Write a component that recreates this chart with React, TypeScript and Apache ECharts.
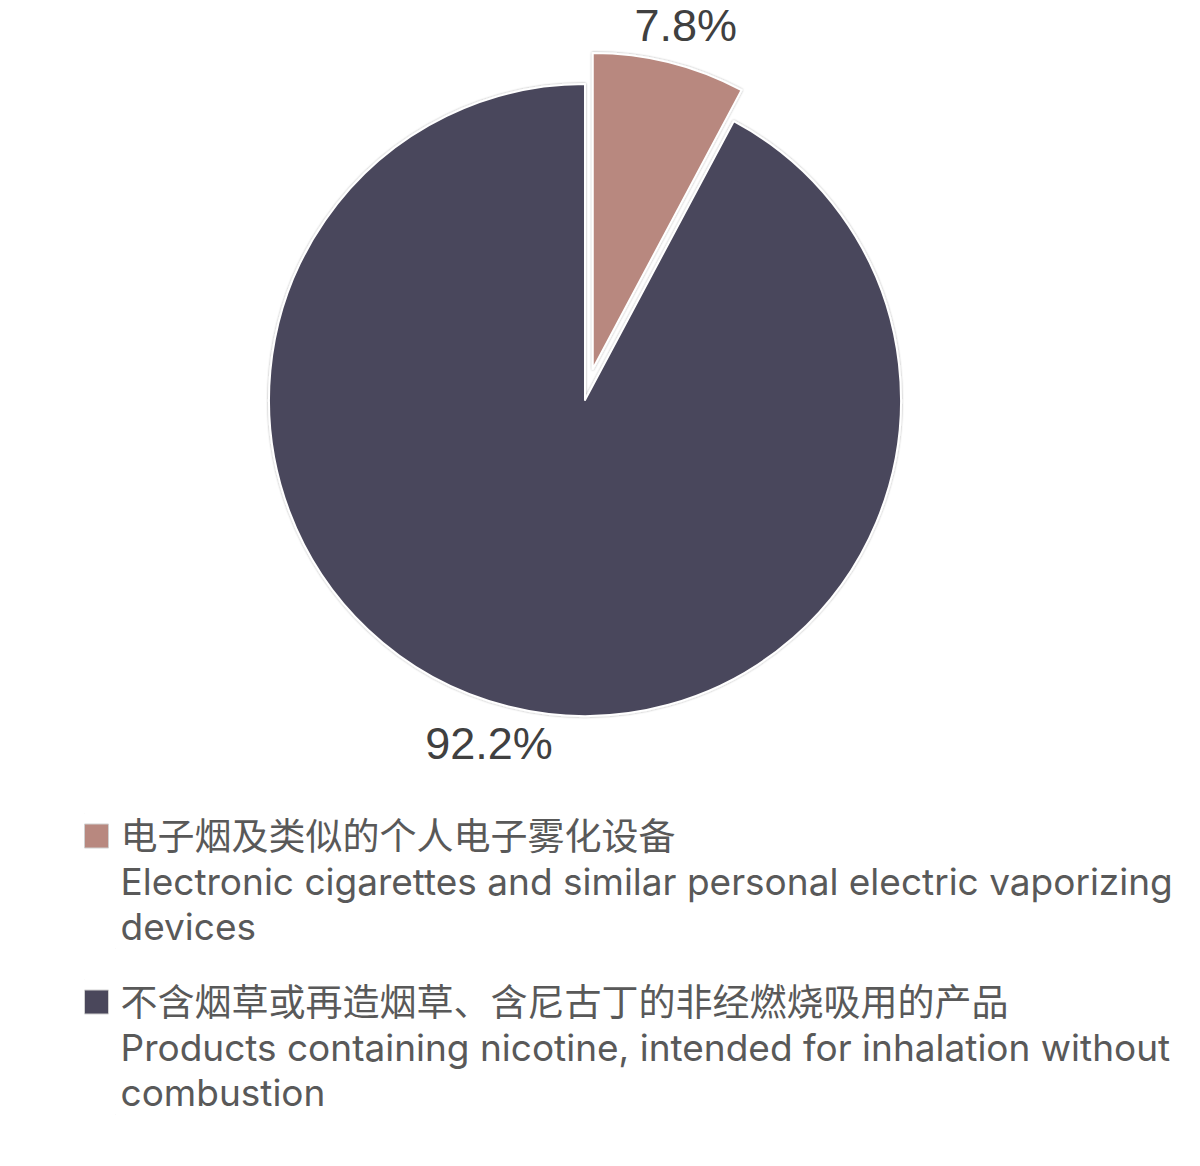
import React, { useEffect, useRef } from 'react';
import * as echarts from 'echarts';

// 数据
const CATEGORY_ZH = ['电子烟及类似的个人电子雾化设备', '不含烟草或再造烟草、含尼古丁的非经燃烧吸用的产品'];
const CATEGORY_EN = [
  'Electronic cigarettes and similar personal electric vaporizing\ndevices',
  'Products containing nicotine, intended for inhalation without\ncombustion',
];
const SHARE = [7.8, 92.2];
const COLORS = ['#b8887f', '#4a475b'];
const EXPLODED = 0; // 被拉出的扇区

const FONT = "'Liberation Sans', 'Noto Sans CJK SC', sans-serif";
const LEGEND_FONT = "Inter, 'Noto Sans CJK SC', sans-serif";

// 饼图几何
const CENTER = [585, 400];
const RADIUS = 316;
const EXPLODE_OFFSET = 32;
const LABEL_GAP = 16;

// 图例图标：上方小方块，下方留空以让方块对齐第一行
const LEGEND_ICON = 'path://M0,10.5h24v24h-24z M0,0L0.1,0 M31,135L30.9,135';

const HIDDEN = { color: 'rgba(0,0,0,0)', borderWidth: 0, shadowBlur: 0 };

const App: React.FC = () => {
  const ref = useRef<HTMLDivElement>(null);

  useEffect(() => {
    document.body.style.margin = '0';
    if (!ref.current) return;
    const chart = echarts.init(ref.current, null, { renderer: 'svg' });

    const names = CATEGORY_ZH.map((zh, i) => `${zh}\n${CATEGORY_EN[i]}`);
    const total = SHARE.reduce((a, b) => a + b, 0);

    // 扇区中线方向（从正上方顺时针）
    const midDir = (idx: number) => {
      const before = SHARE.slice(0, idx).reduce((a, b) => a + b, 0);
      const mid = ((before + SHARE[idx] / 2) / total) * Math.PI * 2;
      return [Math.sin(mid), -Math.cos(mid)];
    };
    const [ex, ey] = midDir(EXPLODED);
    const explodedCenter = [CENTER[0] + ex * EXPLODE_OFFSET, CENTER[1] + ey * EXPLODE_OFFSET];

    // 标签放在扇区中线外侧
    const makeLabelLayout = (center: number[]) => (params: any) => {
      const [ux, uy] = midDir(params.dataIndex);
      const r = params.labelRect;
      return {
        x: center[0] + ux * (RADIUS + LABEL_GAP) + (ux * r.width) / 2,
        y: center[1] + uy * (RADIUS + LABEL_GAP) + (uy * r.height) / 2,
        align: 'center',
        verticalAlign: 'middle',
      };
    };

    const makeSeries = (center: number[], showIdx: (i: number) => boolean) => ({
      type: 'pie',
      center,
      radius: RADIUS,
      startAngle: 90,
      clockwise: true,
      silent: true,
      itemStyle: {
        borderColor: '#fff',
        borderWidth: 2,
        shadowBlur: 2,
        shadowColor: 'rgba(0,0,0,0.35)',
      },
      emphasis: { disabled: true },
      label: {
        show: true,
        position: 'outside',
        fontSize: 45,
        color: '#404040',
        fontFamily: FONT,
        formatter: (p: any) => `${p.value.toFixed(1)}%`,
      },
      labelLine: { show: false },
      labelLayout: makeLabelLayout(center),
      data: SHARE.map((v, i) => ({
        name: names[i],
        value: v,
        itemStyle: showIdx(i) ? { color: COLORS[i] } : HIDDEN,
        label: { show: showIdx(i) },
      })),
    });

    chart.setOption({
      animation: false,
      backgroundColor: '#fff',
      legend: {
        orient: 'vertical',
        left: 84,
        top: 813,
        padding: 0,
        itemGap: 30,
        itemWidth: 31,
        itemHeight: 135,
        icon: LEGEND_ICON,
        selectedMode: false,
        itemStyle: { borderColor: '#d0d0d0', borderWidth: 1, shadowBlur: 0 },
        textStyle: { fontSize: 37, lineHeight: 45, color: '#595959', fontFamily: LEGEND_FONT },
        data: names.map((n, i) => ({ name: n, itemStyle: { color: COLORS[i] } })),
      },
      series: [
        makeSeries(CENTER, (i) => i !== EXPLODED),
        makeSeries(explodedCenter, (i) => i === EXPLODED),
      ],
    });

    return () => chart.dispose();
  }, []);

  return <div ref={ref} style={{ width: 1200, height: 1166 }} />;
};

export default App;
